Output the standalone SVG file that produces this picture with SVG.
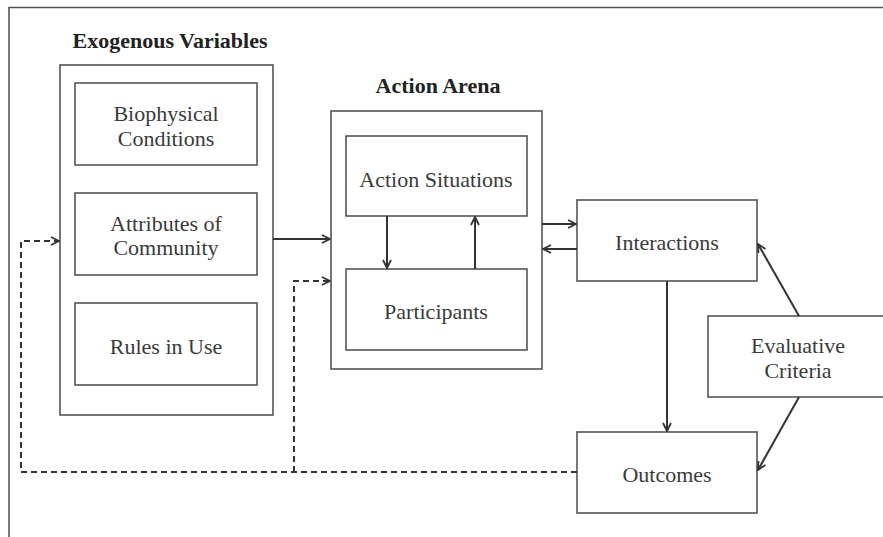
<svg xmlns="http://www.w3.org/2000/svg" width="883" height="537" viewBox="0 0 883 537">
<style>
.box{fill:#fff;stroke:#555;stroke-width:1.6}
.lbl{font-family:"Liberation Serif","DejaVu Serif",serif;font-size:22px;fill:#3a3a3a;text-anchor:middle}
.ttl{font-family:"Liberation Serif","DejaVu Serif",serif;font-size:22px;font-weight:bold;fill:#222;text-anchor:middle}
.ln{fill:none;stroke:#333;stroke-width:2}
.dash{fill:none;stroke:#333;stroke-width:2;stroke-dasharray:6 4}
</style>
<defs>
<marker id="ah" viewBox="0 0 10 10" refX="9" refY="5" markerWidth="10" markerHeight="10" markerUnits="userSpaceOnUse" orient="auto">
<path d="M1,1 L9,5 L1,9" fill="none" stroke="#333" stroke-width="1.8"/>
</marker>
</defs>
<rect width="883" height="537" fill="#fff"/>
<path d="M9,537 L9,7.5 L883,7.5" fill="none" stroke="#555" stroke-width="1.6"/>
<g id="exogenous">
<text class="ttl" x="170" y="48">Exogenous Variables</text>
<rect class="box" x="60" y="65" width="213" height="350"/>
</g>
<g id="biophysical">
<rect class="box" x="75" y="83" width="182" height="82"/>
<text class="lbl" x="166" y="121">Biophysical</text>
<text class="lbl" x="166" y="146">Conditions</text>
</g>
<g id="attributes">
<rect class="box" x="75" y="193" width="182" height="82"/>
<text class="lbl" x="166" y="231">Attributes of</text>
<text class="lbl" x="166" y="255">Community</text>
</g>
<g id="rules">
<rect class="box" x="75" y="303" width="182" height="82"/>
<text class="lbl" x="166" y="354">Rules in Use</text>
</g>
<g id="arena">
<text class="ttl" x="438" y="93">Action Arena</text>
<rect class="box" x="331" y="111" width="211" height="258"/>
</g>
<g id="situations">
<rect class="box" x="346" y="136" width="181" height="80"/>
<text class="lbl" x="436" y="187">Action Situations</text>
</g>
<g id="participants">
<rect class="box" x="346" y="269" width="181" height="81"/>
<text class="lbl" x="436" y="319">Participants</text>
</g>
<g id="interactions">
<rect class="box" x="577" y="200" width="180" height="81"/>
<text class="lbl" x="667" y="250">Interactions</text>
</g>
<g id="outcomes">
<rect class="box" x="577" y="432" width="180" height="81"/>
<text class="lbl" x="667" y="482">Outcomes</text>
</g>
<g id="evaluative">
<rect class="box" x="708" y="316" width="180" height="81"/>
<text class="lbl" x="798" y="353">Evaluative</text>
<text class="lbl" x="798" y="378">Criteria</text>
</g>
<g id="connectors">
<line class="ln" x1="273" y1="239" x2="330" y2="239" marker-end="url(#ah)"/>
<line class="ln" x1="387" y1="216" x2="387" y2="268" marker-end="url(#ah)"/>
<line class="ln" x1="475" y1="269" x2="475" y2="217" marker-end="url(#ah)"/>
<line class="ln" x1="542" y1="224" x2="576" y2="224" marker-end="url(#ah)"/>
<line class="ln" x1="577" y1="249" x2="543" y2="249" marker-end="url(#ah)"/>
<line class="ln" x1="667" y1="281" x2="667" y2="431" marker-end="url(#ah)"/>
<line class="ln" x1="799" y1="316" x2="758" y2="244" marker-end="url(#ah)"/>
<line class="ln" x1="799" y1="397" x2="758" y2="470" marker-end="url(#ah)"/>
<path class="dash" d="M577,472 L21,472 L21,241 L59,241" marker-end="url(#ah)"/>
<path class="dash" d="M294,472 L294,281 L330,281" marker-end="url(#ah)"/>
</g>
</svg>
